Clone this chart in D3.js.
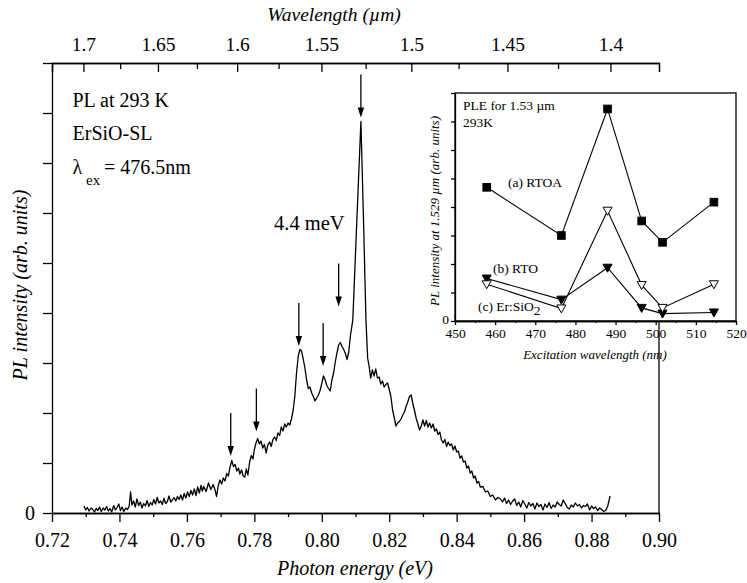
<!DOCTYPE html>
<html>
<head>
<meta charset="utf-8">
<script src="https://cdn.jsdelivr.net/npm/d3@7"></script>
<style>
  body { margin: 0; background: #fff; }
  svg { display: block; }
</style>
</head>
<body>
<svg id="chart" width="747" height="583"></svg>
<script>
// PL spectrum: photon energy (eV) and intensity (arb. units)
const specEnergy = [
  0.7295,0.7300,0.7305,0.7310,0.7316,0.7321,0.7326,0.7331,0.7336,0.7341,0.7346,0.7352,0.7357,0.7362,0.7367,0.7372,0.7377,0.7383,0.7388,0.7393,
  0.7398,0.7403,0.7408,0.7413,0.7419,0.7424,0.7429,0.7433,0.7437,0.7442,0.7447,0.7452,0.7457,0.7462,0.7467,0.7472,0.7477,0.7482,0.7487,0.7492,
  0.7497,0.7502,0.7507,0.7512,0.7517,0.7522,0.7527,0.7532,0.7537,0.7542,0.7547,0.7552,0.7557,0.7562,0.7567,0.7572,0.7577,0.7582,0.7587,0.7592,
  0.7597,0.7602,0.7607,0.7612,0.7617,0.7622,0.7627,0.7632,0.7637,0.7642,0.7646,0.7650,0.7657,0.7664,0.7671,0.7678,0.7684,0.7688,0.7693,0.7698,
  0.7703,0.7708,0.7713,0.7718,0.7723,0.7728,0.7733,0.7738,0.7743,0.7748,0.7753,0.7757,0.7762,0.7767,0.7772,0.7776,0.7781,0.7786,0.7791,0.7796,
  0.7800,0.7805,0.7810,0.7815,0.7820,0.7825,0.7830,0.7835,0.7840,0.7845,0.7850,0.7855,0.7860,0.7865,0.7870,0.7875,0.7880,0.7885,0.7890,0.7895,
  0.7900,0.7905,0.7910,0.7915,0.7920,0.7925,0.7930,0.7935,0.7940,0.7945,0.7950,0.7955,0.7960,0.7965,0.7970,0.7975,0.7980,0.7985,0.7990,0.7995,
  0.8000,0.8005,0.8010,0.8015,0.8020,0.8025,0.8030,0.8035,0.8040,0.8045,0.8050,0.8055,0.8060,0.8065,0.8070,0.8075,0.8080,0.8085,0.8092,0.8104,
  0.8116,0.8124,0.8131,0.8136,0.8140,0.8145,0.8150,0.8155,0.8160,0.8165,0.8170,0.8175,0.8180,0.8185,0.8190,0.8195,0.8200,0.8205,0.8210,0.8215,
  0.8220,0.8225,0.8230,0.8235,0.8240,0.8245,0.8250,0.8255,0.8260,0.8265,0.8270,0.8275,0.8280,0.8285,0.8290,0.8295,0.8300,0.8305,0.8310,0.8315,
  0.8320,0.8325,0.8330,0.8335,0.8340,0.8345,0.8350,0.8355,0.8360,0.8365,0.8370,0.8375,0.8380,0.8385,0.8390,0.8395,0.8400,0.8405,0.8410,0.8415,
  0.8420,0.8425,0.8430,0.8435,0.8440,0.8445,0.8450,0.8455,0.8460,0.8465,0.8470,0.8478,0.8485,0.8492,0.8500,0.8507,0.8515,0.8522,0.8530,0.8536,
  0.8542,0.8548,0.8554,0.8560,0.8566,0.8572,0.8578,0.8584,0.8590,0.8596,0.8602,0.8608,0.8614,0.8620,0.8626,0.8632,0.8638,0.8644,0.8650,0.8656,
  0.8662,0.8668,0.8674,0.8680,0.8686,0.8692,0.8698,0.8704,0.8710,0.8716,0.8722,0.8728,0.8734,0.8740,0.8746,0.8752,0.8758,0.8764,0.8770,0.8776,
  0.8782,0.8788,0.8794,0.8800,0.8806,0.8812,0.8818,0.8824,0.8830,0.8836,0.8842,0.8848,0.8855
];
const specIntensity = [
  0.14,0.06,0.11,0.04,0.10,0.07,0.02,0.09,0.05,0.12,0.03,0.10,0.06,0.13,0.04,0.09,0.02,0.15,0.06,0.11,
  0.18,0.05,0.12,0.03,0.10,0.07,0.14,0.42,0.16,0.24,0.12,0.28,0.15,0.22,0.10,0.19,0.14,0.25,0.13,0.21,
  0.16,0.27,0.18,0.31,0.20,0.24,0.17,0.29,0.19,0.23,0.34,0.22,0.26,0.31,0.24,0.33,0.27,0.36,0.26,0.39,
  0.30,0.42,0.33,0.45,0.36,0.48,0.35,0.52,0.40,0.55,0.44,0.53,0.43,0.60,0.47,0.57,0.45,0.33,0.55,0.66,
  0.58,0.70,0.64,0.79,0.74,0.92,1.05,0.93,0.97,0.84,0.90,0.78,0.86,0.74,0.72,0.88,0.76,1.02,1.15,1.08,
  1.27,1.40,1.49,1.38,1.44,1.30,1.37,1.20,1.36,1.42,1.33,1.47,1.52,1.45,1.60,1.55,1.72,1.64,1.78,1.72,
  1.80,1.76,1.88,2.05,2.33,2.79,3.13,3.27,3.24,3.08,2.90,2.66,2.49,2.52,2.40,2.33,2.24,2.30,2.36,2.45,
  2.59,2.74,2.66,2.55,2.49,2.44,2.66,2.80,3.02,3.20,3.36,3.41,3.33,3.27,3.19,3.07,3.22,3.55,3.86,5.85,
  7.83,5.80,3.86,3.10,2.95,2.70,2.86,2.74,2.88,2.70,2.72,2.58,2.64,2.52,2.57,2.60,2.47,2.33,2.06,1.90,
  1.74,1.80,1.83,1.88,1.96,2.02,2.13,2.22,2.33,2.36,2.19,2.05,1.89,1.78,1.66,1.74,1.86,1.74,1.85,1.72,
  1.80,1.70,1.78,1.64,1.68,1.57,1.62,1.46,1.40,1.47,1.33,1.42,1.35,1.38,1.26,1.34,1.22,1.24,1.10,1.14,
  1.02,1.04,0.90,0.94,0.80,0.84,0.70,0.74,0.60,0.63,0.52,0.53,0.42,0.44,0.33,0.36,0.26,0.31,0.28,0.22,
  0.30,0.19,0.26,0.17,0.24,0.28,0.15,0.22,0.12,0.25,0.18,0.10,0.21,0.14,0.19,0.08,0.20,0.13,0.17,0.06,
  0.18,0.11,0.21,0.09,0.16,0.12,0.22,0.17,0.14,0.26,0.19,0.11,0.08,0.16,0.12,0.20,0.14,0.17,0.10,0.15,
  0.13,0.18,0.06,0.14,0.09,0.12,0.05,0.10,0.07,0.03,0.05,0.14,0.34
];

// arrows marking the fine structure
const arrowEnergy = [0.7730, 0.7806, 0.7932, 0.8004, 0.8050, 0.8116];
const arrowTip = [1.14, 1.63, 3.34, 2.94, 4.13, 7.91];

// axis ticks
const energyTicks = [0.72, 0.74, 0.76, 0.78, 0.80, 0.82, 0.84, 0.86, 0.88, 0.90];
const energyMinor = [0.73, 0.75, 0.77, 0.79, 0.81, 0.83, 0.85, 0.87, 0.89];
const wlTicks = [1.7, 1.65, 1.6, 1.55, 1.5, 1.45, 1.4];
const wlMinor = [1.675, 1.625, 1.575, 1.525, 1.475, 1.425];
const intensityTicks = [0, 1, 2, 3, 4, 5, 6, 7, 8, 9];

// inset: PLE
const exWavelength = [457.9, 476.5, 488.0, 496.5, 501.7, 514.5];
const pleRTOA = [4.69, 3.00, 7.44, 3.51, 2.76, 4.17];
const pleRTO = [1.49, 0.75, 1.87, 0.46, 0.26, 0.30];
const pleErSiO2 = [1.29, 0.44, 3.87, 1.26, 0.46, 1.29];
const insetXTicks = [450, 460, 470, 480, 490, 500, 510, 520];
const insetXMinor = [455, 465, 475, 485, 495, 505, 515];
const insetYTicks = [0, 1, 2, 3, 4, 5, 6, 7, 8];

const hc = 1.23984; // eV·µm

const serif = "Liberation Serif";
const svg = d3.select("#chart").style("font-family", serif);

const m = { left: 52, right: 659, top: 63, bottom: 513 };
const x = d3.scaleLinear().domain([0.72, 0.90]).range([m.left, m.right]);
const y = d3.scaleLinear().domain([0, 9]).range([m.bottom, m.top]);

function styleAxis(g, size) {
  g.attr("font-family", null).style("font-family", serif);
  g.selectAll("path, line").attr("stroke", "#000").attr("stroke-width", 1.3);
  g.selectAll("text").style("font-family", serif).attr("font-size", size).attr("fill", "#000");
}

function label(xp, yp, size, str) {
  return svg.append("text").attr("x", xp).attr("y", yp)
    .style("font-family", serif).attr("font-size", size).attr("fill", "#000").text(str);
}

// bottom axis
svg.append("g").attr("transform", `translate(0,${m.bottom})`)
  .call(d3.axisBottom(x).tickValues(energyMinor).tickSize(4).tickSizeOuter(0).tickFormat(""))
  .call(g => styleAxis(g, 20));
svg.append("g").attr("transform", `translate(0,${m.bottom})`)
  .call(d3.axisBottom(x).tickValues(energyTicks).tickSize(9).tickSizeOuter(0).tickFormat(d3.format(".2f")))
  .call(g => styleAxis(g, 20))
  .call(g => g.selectAll("text").attr("y", 20));

// top axis (wavelength), ticks pointing inwards
svg.append("g").attr("transform", `translate(0,${m.top})`)
  .call(d3.axisTop(x).tickValues(wlMinor.map(l => hc / l)).tickSize(-6).tickSizeOuter(-9).tickFormat(""))
  .call(g => styleAxis(g, 20));
svg.append("g").attr("transform", `translate(0,${m.top})`)
  .call(d3.axisTop(x).tickValues(wlTicks.map(l => hc / l)).tickSize(-9).tickSizeOuter(-9)
    .tickFormat((d, i) => String(wlTicks[i])))
  .call(g => styleAxis(g, 19.5))
  .call(g => g.selectAll("text").attr("y", -12));

// left axis
svg.append("g").attr("transform", `translate(${m.left},0)`)
  .call(d3.axisLeft(y).tickValues(intensityTicks).tickSize(9).tickSizeOuter(0).tickFormat(d => d === 0 ? "0" : ""))
  .call(g => styleAxis(g, 20))
  .call(g => g.selectAll("text").attr("x", -17));

// right frame line (the inset covers the upper part)
svg.append("line")
  .attr("x1", m.right).attr("x2", m.right)
  .attr("y1", m.bottom).attr("y2", 100)
  .attr("stroke", "#000").attr("stroke-width", 1.3);

// spectrum
const spec = specEnergy.map((e, i) => [e, specIntensity[i]]);
svg.append("path")
  .datum(spec)
  .attr("fill", "none")
  .attr("stroke", "#000")
  .attr("stroke-width", 1.3)
  .attr("stroke-linejoin", "round")
  .attr("d", d3.line().x(d => x(d[0])).y(d => y(d[1])));

// arrows
const arrowLen = 43;
const arrows = svg.append("g");
arrowEnergy.forEach((e, i) => {
  const ax = x(e), ay = y(arrowTip[i]);
  arrows.append("line")
    .attr("x1", ax).attr("x2", ax)
    .attr("y1", ay - arrowLen).attr("y2", ay - 6)
    .attr("stroke", "#000").attr("stroke-width", 1.3);
  arrows.append("path")
    .attr("d", `M${ax},${ay} L${ax - 3.2},${ay - 10} L${ax + 3.2},${ay - 10} Z`)
    .attr("fill", "#000");
});

// annotations
label(72.5, 106.5, 20, "PL at 293 K");
label(72.5, 140, 20, "ErSiO-SL");
label(72.5, 174.3, 20, "λ");
label(86, 185, 15, "ex");
label(104, 174.3, 20, "= 476.5nm");
label(274, 230, 20.5, "4.4 meV");

// axis titles
label(355, 575, 20, "Photon energy (eV)").attr("text-anchor", "middle").attr("font-style", "italic");
label(334, 21, 19.5, "Wavelength (µm)").attr("text-anchor", "middle").attr("font-style", "italic");
label(0, 0, 20, "PL intensity (arb. units)").attr("transform", "translate(27,285) rotate(-90)")
  .attr("text-anchor", "middle").attr("font-style", "italic");

// ---------- inset ----------
const ins = { left: 455, right: 736, top: 93, bottom: 321 };
const ix = d3.scaleLinear().domain([450, 520]).range([ins.left, ins.right]);
const iy = d3.scaleLinear().domain([0, 8]).range([ins.bottom, ins.top]);

svg.append("rect")
  .attr("x", ins.left).attr("y", ins.top)
  .attr("width", ins.right - ins.left).attr("height", ins.bottom - ins.top)
  .attr("fill", "#fff").attr("stroke", "#000").attr("stroke-width", 1.3);

svg.append("g").attr("transform", `translate(0,${ins.bottom})`)
  .call(d3.axisBottom(ix).tickValues(insetXMinor).tickSize(2).tickSizeOuter(0).tickFormat(""))
  .call(g => styleAxis(g, 13.5));
svg.append("g").attr("transform", `translate(0,${ins.bottom})`)
  .call(d3.axisBottom(ix).tickValues(insetXTicks).tickSize(4).tickSizeOuter(0))
  .call(g => styleAxis(g, 13.5))
  .call(g => g.selectAll("text").attr("y", 7));
svg.append("g").attr("transform", `translate(${ins.left},0)`)
  .call(d3.axisLeft(iy).tickValues(insetYTicks).tickSize(4).tickSizeOuter(0).tickFormat(d => d === 0 ? "0" : ""))
  .call(g => styleAxis(g, 13.5))
  .call(g => g.selectAll("text").attr("x", -6).attr("dy", "0.2em"));

const iline = d3.line().x(d => ix(d[0])).y(d => iy(d[1]));
const seriesList = [
  { values: pleRTOA, shape: "square", fill: "#000" },
  { values: pleRTO, shape: "tri", fill: "#000" },
  { values: pleErSiO2, shape: "tri", fill: "#fff" }
];
seriesList.forEach(s => {
  svg.append("path")
    .datum(exWavelength.map((w, i) => [w, s.values[i]]))
    .attr("fill", "none").attr("stroke", "#000").attr("stroke-width", 1.1)
    .attr("d", iline);
});
seriesList.forEach(s => {
  exWavelength.forEach((w, i) => {
    const cx = ix(w), cy = iy(s.values[i]);
    if (s.shape === "square") {
      svg.append("rect").attr("x", cx - 3.8).attr("y", cy - 3.8)
        .attr("width", 7.6).attr("height", 7.6)
        .attr("fill", s.fill).attr("stroke", "#000").attr("stroke-width", 1);
    } else {
      svg.append("path")
        .attr("d", `M${cx - 4.5},${cy - 3.5} L${cx + 4.5},${cy - 3.5} L${cx},${cy + 4.5} Z`)
        .attr("fill", s.fill).attr("stroke", "#000").attr("stroke-width", 1);
    }
  });
});

label(463, 110, 13.5, "PLE for 1.53 µm");
label(463, 126.7, 13.5, "293K");
label(508, 186.7, 13.5, "(a) RTOA");
label(493, 272.7, 13.5, "(b) RTO");
label(478, 310.7, 13.5, "(c) Er:SiO")
  .append("tspan").attr("dy", 4).text("2");

label(595, 359, 13, "Excitation wavelength (nm)").attr("text-anchor", "middle").attr("font-style", "italic");
label(0, 0, 13, "PL intensity at 1.529 µm (arb. units)").attr("transform", "translate(439,211) rotate(-90)")
  .attr("text-anchor", "middle").attr("font-style", "italic");
</script>
</body>
</html>
